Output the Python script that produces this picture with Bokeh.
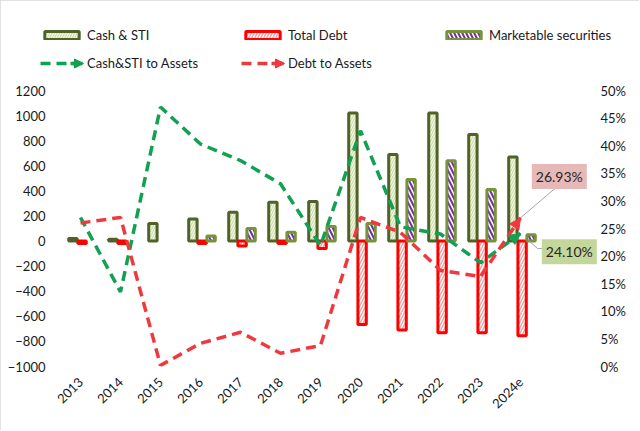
import math
from bokeh.plotting import figure
from bokeh.models import (ColumnDataSource, Range1d, LinearAxis, FixedTicker, NumeralTickFormatter,
                          Legend, LegendItem, Label, Arrow, NormalHead)
from bokeh.transform import dodge
from bokeh.embed import file_html
from bokeh.resources import INLINE

NAN = float("nan")

# ---- data ----
years = ["2013", "2014", "2015", "2016", "2017", "2018", "2019", "2020", "2021", "2022", "2023", "2024e"]
cash_sti = [20, 15, 140, 175, 230, 310, 315, 1020, 690, 1020, 850, 670]
total_debt = [-20, -20, NAN, -20, -40, -20, -60, -665, -710, -730, -730, -755]
marketable = [NAN, NAN, NAN, 40, 100, 70, 115, 140, 490, 640, 410, 50]
cash_to_assets = [27.0, 13.5, 47.0, 40.3, 37.3, 33.1, 21.9, 42.7, 25.3, 24.0, 18.8, 24.10]
debt_to_assets = [26.0, 27.0, 0.2, 4.2, 6.2, 2.4, 3.8, 27.0, 24.3, 17.4, 16.3, 26.93]
left_ticks = [-1000, -800, -600, -400, -200, 0, 200, 400, 600, 800, 1000, 1200]
right_ticks = [0, 5, 10, 15, 20, 25, 30, 35, 40, 45, 50]

FONT = "Lato"
GREEN_LINE = "#12A152"
RED_LINE = "#F0393F"

# ---- layout (pixels) ----
TOTAL_W, TOTAL_H = 639, 430
FRAME_L, FRAME_R, FRAME_T, FRAME_B = 38, 624, 10, 366
CAT_PX = 40            # pixels per category
FIRST_CAT_PX = 80      # x pixel of first category
AXIS_TOP_PX = 90       # pixel of 1200 / 50%
frame_w, frame_h = FRAME_R - FRAME_L, FRAME_B - FRAME_T
x_start = -(FIRST_CAT_PX - FRAME_L) / CAT_PX
y_scale = (FRAME_B - AXIS_TOP_PX) / 2200.0
left_end = -1000 + frame_h / y_scale
right_end = 0.5 * frame_h / (FRAME_B - AXIS_TOP_PX)


def px_x(px):
    return (px - FIRST_CAT_PX) / CAT_PX


def px_y(py):
    return -1000 + (FRAME_B - py) / y_scale


idx = list(range(len(years)))
src = ColumnDataSource(dict(
    x=idx, cash=cash_sti, debt=total_debt, market=marketable,
    c2a=[v / 100 for v in cash_to_assets], d2a=[v / 100 for v in debt_to_assets],
))

p = figure(width=TOTAL_W, height=TOTAL_H, output_backend="svg", toolbar_location=None,
           frame_width=frame_w, frame_height=frame_h,
           x_range=Range1d(x_start, x_start + frame_w / CAT_PX), y_range=Range1d(-1000, left_end),
           min_border_left=FRAME_L, min_border_right=TOTAL_W - FRAME_R, min_border_top=FRAME_T,
           min_border_bottom=TOTAL_H - FRAME_B, x_axis_location=None, y_axis_location=None)
p.extra_y_ranges = {"pct": Range1d(0, right_end)}
p.outline_line_color = None
p.grid.visible = False
p.styles = {"outline": "1px solid #D9D9D9", "outline-offset": "-1px"}

r_cash = p.vbar(x=dodge("x", -0.19), top="cash", width=0.21, source=src,
                fill_color="#CCDDA3", line_color="#4F6228", line_width=3,
                hatch_pattern="/", hatch_color="#F4F8EA", hatch_scale=5, hatch_weight=1.2)
r_debt = p.vbar(x=dodge("x", 0.04), top="debt", width=0.21, source=src,
                fill_color="white", line_color="#FF0000", line_width=3,
                hatch_pattern="/", hatch_color="#E3A9AA", hatch_scale=6, hatch_weight=1.5)
r_mkt = p.vbar(x=dodge("x", 0.265), top="market", width=0.21, source=src,
               fill_color="white", line_color="#77933C", line_width=3,
               hatch_pattern="\\", hatch_color="#7030A0", hatch_scale=8, hatch_weight=2)

r_c2a = p.line("x", "c2a", source=src, y_range_name="pct", line_color=GREEN_LINE,
               line_width=3.5, line_dash="10 6")
r_d2a = p.line("x", "d2a", source=src, y_range_name="pct", line_color=RED_LINE,
               line_width=3.5, line_dash="10 6")

for vals, col in ((cash_to_assets, GREEN_LINE), (debt_to_assets, RED_LINE)):
    p.add_layout(Arrow(end=NormalHead(size=11, fill_color=col, line_color=col),
                       x_start=idx[-2] + 0.5, y_start=(vals[-2] + vals[-1]) / 200,
                       x_end=idx[-1], y_end=vals[-1] / 100,
                       y_range_name="pct", line_alpha=0))

# callouts
p.line([idx[-1], 11.95], [debt_to_assets[-1] / 100, 0.328], y_range_name="pct",
       line_color="#A6A6A6", line_width=1)
p.line([11.2, 11.425, 11.575], [0.2283, 0.2138, 0.2138], y_range_name="pct",
       line_color="#A6A6A6", line_width=1)
p.add_layout(Label(x=11.97, y=0.3442, y_range_name="pct", text=f"{debt_to_assets[-1]:.2f}%",
                   text_align="center", text_baseline="middle", text_font=FONT,
                   text_font_size="14px", text_color="#262626",
                   background_fill_color="#E6B9B8", padding=4))
p.add_layout(Label(x=12.22, y=0.2078, y_range_name="pct", text=f"{cash_to_assets[-1]:.2f}%",
                   text_align="center", text_baseline="middle", text_font=FONT,
                   text_font_size="14px", text_color="#262626",
                   background_fill_color="#C4D79B", padding=4))

# axes
yl = LinearAxis(ticker=FixedTicker(ticks=left_ticks))
yr = LinearAxis(y_range_name="pct", ticker=FixedTicker(ticks=[t / 100 for t in right_ticks]),
                formatter=NumeralTickFormatter(format="0%"))
xa = LinearAxis(ticker=FixedTicker(ticks=idx),
                major_label_overrides={i: y for i, y in zip(idx, years)},
                major_label_orientation=math.pi / 4)
for ax in (yl, yr, xa):
    ax.axis_line_color = None
    ax.major_tick_line_color = None
    ax.minor_tick_line_color = None
    ax.major_tick_out = 0
    ax.major_label_text_font = FONT
    ax.major_label_text_font_size = "13px"
    ax.major_label_text_color = "#1A1A1A"
yl.major_label_standoff = FRAME_L - 45     # labels end at x=45
yr.major_label_standoff = 600 - FRAME_R    # labels start at x=600
xa.major_label_standoff = 13
p.add_layout(yl, "left")
p.add_layout(yr, "right")
p.add_layout(xa, "below")

# legends (inside the widened frame)
LEG_X = 40
LEG_PITCH = 201
common = dict(orientation="horizontal", glyph_width=43, glyph_height=10, label_standoff=4,
              label_width=150, spacing=4, padding=0, margin=0, border_line_color=None,
              background_fill_alpha=0, label_text_font=FONT, label_text_font_size="13px",
              label_text_color="#1A1A1A", label_height=20)
leg1 = Legend(items=[LegendItem(label="Cash & STI", renderers=[r_cash]),
                     LegendItem(label="Total Debt", renderers=[r_debt]),
                     LegendItem(label="Marketable securities", renderers=[r_mkt])],
              location=(LEG_X - FRAME_L, FRAME_B - 45), **common)
leg2 = Legend(items=[LegendItem(label="Cash&STI to Assets", renderers=[r_c2a]),
                     LegendItem(label="Debt to Assets", renderers=[r_d2a])],
              location=(LEG_X - FRAME_L, FRAME_B - 73), **common)
p.add_layout(leg1)
p.add_layout(leg2)

# arrowheads on the legend line keys
for k, col in enumerate((GREEN_LINE, RED_LINE)):
    x0 = LEG_X + k * LEG_PITCH
    p.add_layout(Arrow(end=NormalHead(size=9, fill_color=col, line_color=col),
                       x_start=px_x(x0 + 30), y_start=px_y(63), x_end=px_x(x0 + 43), y_end=px_y(63),
                       line_color=col, line_width=3.5))

open("out.html", "w").write(file_html(p, INLINE))
